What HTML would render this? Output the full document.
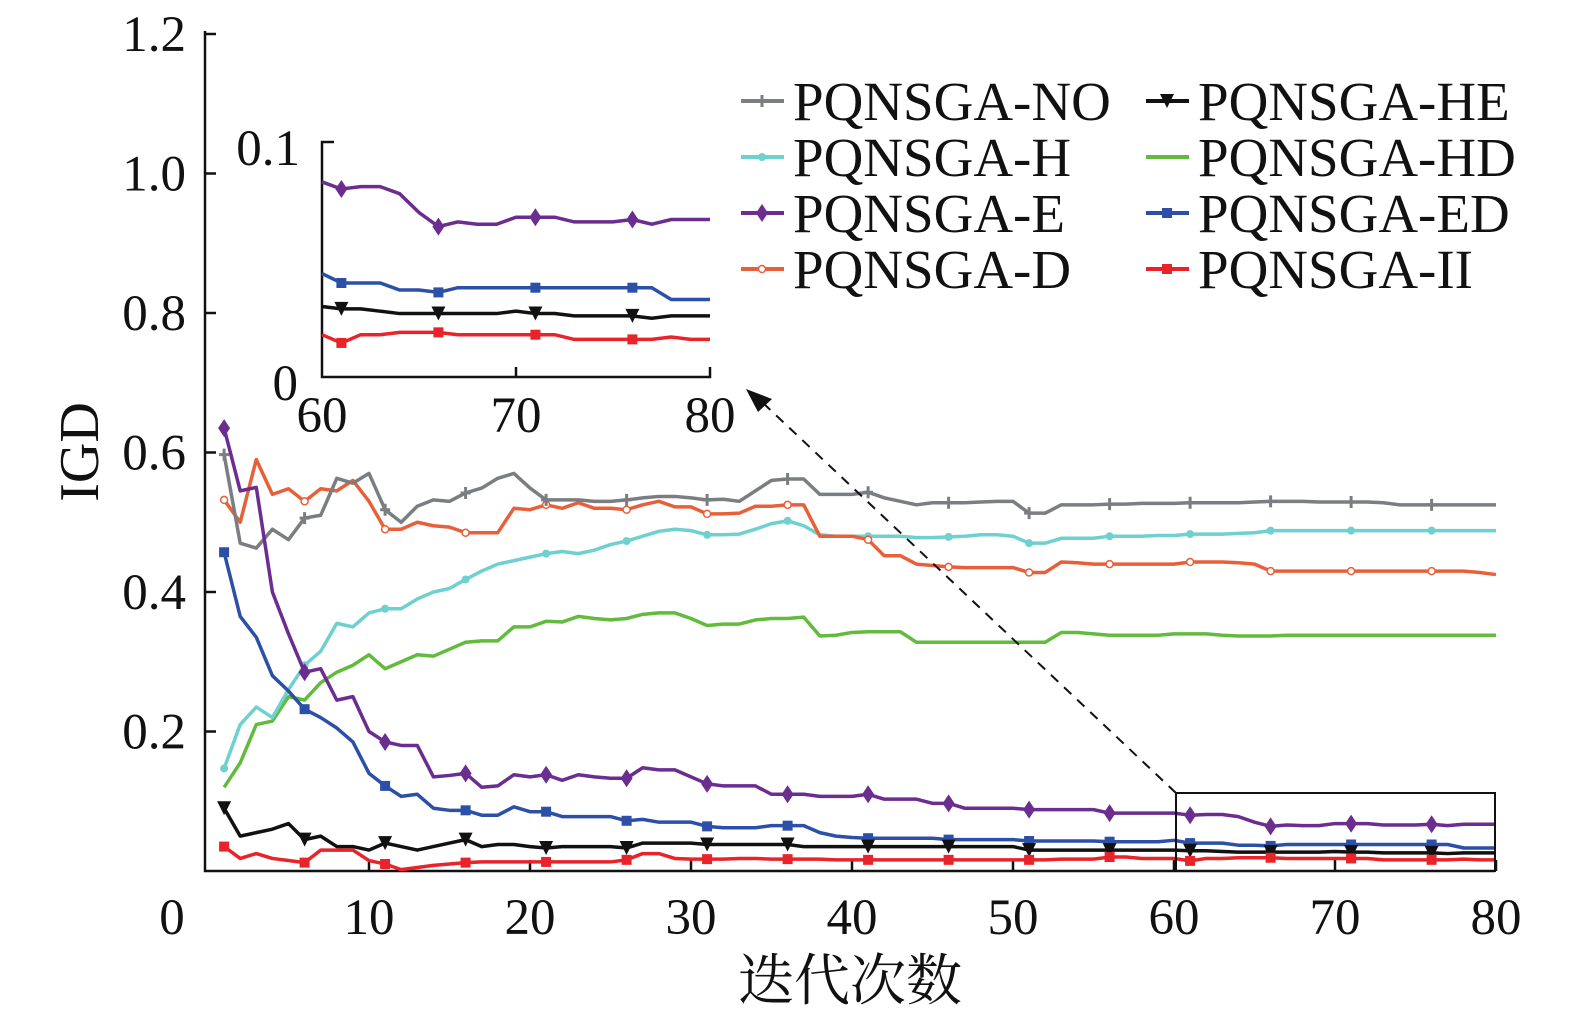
<!DOCTYPE html>
<html><head><meta charset="utf-8"><style>
body{margin:0;background:#fff}
svg{display:block}
text{font-family:"Liberation Serif","Noto Serif CJK SC",serif;fill:#111}
</style></head><body>
<svg id="c" width="1575" height="1022" viewBox="0 0 1575 1022"></svg>
<script>
const iters = Array.from({length:80},(_, i)=>i+1);
const sNO=[0.597,0.47,0.463,0.49,0.475,0.506,0.51,0.563,0.556,0.57,0.518,0.5,0.523,0.532,0.53,0.542,0.549,0.563,0.57,0.549,0.532,0.532,0.532,0.53,0.53,0.532,0.535,0.537,0.537,0.535,0.532,0.533,0.53,0.545,0.56,0.562,0.562,0.54,0.54,0.54,0.543,0.535,0.53,0.525,0.528,0.528,0.528,0.529,0.53,0.53,0.513,0.513,0.525,0.525,0.525,0.526,0.526,0.527,0.527,0.527,0.528,0.528,0.528,0.528,0.529,0.53,0.53,0.53,0.529,0.529,0.529,0.529,0.528,0.525,0.525,0.525,0.525,0.525,0.525,0.525];
const sH=[0.147,0.21,0.235,0.22,0.26,0.295,0.315,0.355,0.35,0.37,0.376,0.376,0.39,0.4,0.405,0.418,0.43,0.44,0.445,0.45,0.455,0.458,0.455,0.46,0.468,0.473,0.48,0.487,0.49,0.488,0.482,0.482,0.483,0.49,0.498,0.502,0.495,0.482,0.48,0.48,0.48,0.48,0.48,0.478,0.478,0.479,0.48,0.482,0.482,0.48,0.47,0.47,0.477,0.477,0.477,0.48,0.48,0.48,0.481,0.481,0.483,0.483,0.483,0.484,0.485,0.488,0.488,0.488,0.488,0.488,0.488,0.488,0.488,0.488,0.488,0.488,0.488,0.488,0.488,0.488];
const sHD=[0.12,0.155,0.21,0.215,0.25,0.245,0.27,0.285,0.295,0.31,0.29,0.3,0.31,0.308,0.318,0.328,0.33,0.33,0.35,0.35,0.358,0.357,0.365,0.362,0.36,0.362,0.368,0.37,0.37,0.362,0.352,0.354,0.354,0.36,0.362,0.362,0.364,0.337,0.338,0.342,0.343,0.343,0.343,0.328,0.328,0.328,0.328,0.328,0.328,0.328,0.328,0.328,0.342,0.342,0.34,0.338,0.338,0.338,0.338,0.34,0.34,0.34,0.338,0.337,0.337,0.337,0.338,0.338,0.338,0.338,0.338,0.338,0.338,0.338,0.338,0.338,0.338,0.338,0.338,0.338];
const sD=[0.532,0.5,0.59,0.54,0.548,0.53,0.548,0.545,0.56,0.53,0.49,0.49,0.5,0.495,0.493,0.485,0.485,0.485,0.52,0.518,0.525,0.52,0.528,0.52,0.52,0.518,0.525,0.53,0.522,0.522,0.512,0.512,0.513,0.523,0.523,0.525,0.525,0.48,0.48,0.48,0.475,0.452,0.452,0.44,0.438,0.436,0.435,0.435,0.435,0.435,0.428,0.428,0.443,0.442,0.44,0.44,0.44,0.44,0.44,0.44,0.443,0.443,0.443,0.442,0.44,0.43,0.43,0.43,0.43,0.43,0.43,0.43,0.43,0.43,0.43,0.43,0.43,0.43,0.428,0.425];
const sE=[0.635,0.545,0.55,0.4,0.34,0.285,0.29,0.245,0.25,0.2,0.185,0.18,0.18,0.135,0.137,0.14,0.12,0.122,0.138,0.135,0.138,0.13,0.138,0.135,0.133,0.133,0.148,0.145,0.145,0.135,0.125,0.122,0.122,0.122,0.11,0.11,0.11,0.107,0.107,0.107,0.11,0.103,0.103,0.103,0.097,0.097,0.09,0.09,0.09,0.09,0.088,0.088,0.088,0.088,0.088,0.083,0.083,0.083,0.083,0.083,0.080,0.081,0.081,0.078,0.07,0.064,0.066,0.065,0.065,0.068,0.068,0.068,0.066,0.066,0.066,0.067,0.065,0.067,0.067,0.067];
const sED=[0.457,0.365,0.335,0.28,0.258,0.232,0.22,0.205,0.185,0.14,0.122,0.107,0.11,0.09,0.087,0.087,0.08,0.08,0.092,0.085,0.085,0.078,0.078,0.078,0.078,0.072,0.074,0.07,0.07,0.07,0.064,0.062,0.062,0.062,0.065,0.065,0.065,0.055,0.05,0.048,0.047,0.047,0.047,0.047,0.047,0.045,0.045,0.045,0.045,0.045,0.043,0.043,0.043,0.043,0.043,0.042,0.042,0.042,0.042,0.044,0.040,0.040,0.040,0.037,0.037,0.036,0.038,0.038,0.038,0.038,0.038,0.038,0.038,0.038,0.038,0.038,0.038,0.033,0.033,0.033];
const sHE=[0.09,0.05,0.055,0.06,0.068,0.045,0.05,0.035,0.035,0.03,0.04,0.035,0.03,0.035,0.04,0.045,0.035,0.038,0.038,0.035,0.033,0.035,0.035,0.035,0.035,0.033,0.04,0.04,0.04,0.04,0.038,0.038,0.038,0.038,0.038,0.038,0.035,0.035,0.035,0.035,0.035,0.035,0.035,0.035,0.035,0.035,0.035,0.035,0.035,0.035,0.03,0.03,0.03,0.03,0.03,0.03,0.03,0.03,0.03,0.03,0.029,0.029,0.028,0.027,0.027,0.027,0.027,0.027,0.027,0.028,0.027,0.027,0.026,0.026,0.026,0.026,0.025,0.026,0.026,0.026];
const sII=[0.035,0.018,0.025,0.018,0.015,0.012,0.03,0.03,0.03,0.015,0.01,0.002,0.005,0.008,0.01,0.012,0.013,0.013,0.013,0.013,0.013,0.013,0.013,0.013,0.013,0.016,0.025,0.025,0.018,0.017,0.017,0.017,0.018,0.018,0.017,0.017,0.017,0.017,0.016,0.016,0.016,0.016,0.016,0.016,0.016,0.016,0.016,0.016,0.016,0.016,0.016,0.016,0.017,0.017,0.017,0.02,0.02,0.018,0.018,0.018,0.0145,0.018,0.018,0.019,0.019,0.019,0.018,0.018,0.018,0.018,0.018,0.018,0.016,0.016,0.016,0.016,0.016,0.017,0.016,0.016];
const yTicks=["0.2","0.4","0.6","0.8","1.0","1.2"];
const yTickVals=[0.2,0.4,0.6,0.8,1.0,1.2];
const xTickVals=[10,20,30,40,50,60,70,80];
const insetXTicks=[60,70,80];

const series=[
 {name:"PQNSGA-NO",key:"no",data:sNO,color:"#7a7d82",m:"plus"},
 {name:"PQNSGA-H",key:"h",data:sH,color:"#6fd0d0",m:"dot"},
 {name:"PQNSGA-E",key:"e",data:sE,color:"#6b2d8f",m:"diamond"},
 {name:"PQNSGA-D",key:"d",data:sD,color:"#e8603a",m:"ocircle"},
 {name:"PQNSGA-HE",key:"he",data:sHE,color:"#111111",m:"tri"},
 {name:"PQNSGA-HD",key:"hd",data:sHD,color:"#62bb3c",m:null},
 {name:"PQNSGA-ED",key:"ed",data:sED,color:"#2c4fa8",m:"square"},
 {name:"PQNSGA-II",key:"ii",data:sII,color:"#e8232a",m:"square"}
];
const svg=document.getElementById('c');
const NS="http://www.w3.org/2000/svg";
function el(t,a,p){const e=document.createElementNS(NS,t);for(const k in a)e.setAttribute(k,a[k]);(p||svg).appendChild(e);return e;}
const X=v=>208+(v)*16.1, Y=v=>871-v*697.5;
const IX=v=>322+(v-60)*(388/20), IY=v=>377-v*2350;

function marker(g,m,x,y,c,s){
 s=s||1;
 if(m==="plus"){el('path',{d:`M${x-5*s},${y}H${x+5*s}M${x},${y-6*s}V${y+6*s}`,stroke:c,'stroke-width':3},g);}
 else if(m==="dot"){el('circle',{cx:x,cy:y,r:4*s,fill:c},g);}
 else if(m==="diamond"){el('path',{d:`M${x},${y-9*s}L${x+6*s},${y}L${x},${y+9*s}L${x-6*s},${y}Z`,fill:c},g);}
 else if(m==="ocircle"){el('circle',{cx:x,cy:y,r:3.5*s,fill:'#fff',stroke:c,'stroke-width':1.5},g);}
 else if(m==="tri"){el('path',{d:`M${x-7*s},${y-7*s}H${x+7*s}L${x},${y+7*s}Z`,fill:c},g);}
 else if(m==="square"){el('rect',{x:x-5*s,y:y-5*s,width:10*s,height:10*s,fill:c},g);}
}

const ax=el('g',{});  
el('path',{d:`M205,31V871H1495`,stroke:'#111','stroke-width':2.5,fill:'none'},ax);
yTickVals.forEach((v,i)=>{
 el('line',{x1:205,x2:216,y1:Y(v),y2:Y(v),stroke:'#111','stroke-width':2.5},ax);
 const t=el('text',{x:186,y:Y(v)+17,'text-anchor':'end','font-size':51},ax);t.textContent=yTicks[i];
 
 
});
const z=el('text',{x:172,y:934,'text-anchor':'middle','font-size':51},ax);z.textContent="0";
xTickVals.forEach(v=>{
 el('line',{x1:X(v),x2:X(v),y1:871,y2:860,stroke:'#111','stroke-width':2.5},ax);
 const t=el('text',{x:X(v),y:934,'text-anchor':'middle','font-size':51},ax);t.textContent=String(v);
 
 
});
const yl=el('text',{x:0,y:0,'text-anchor':'middle','font-size':56,transform:'translate(98,452) rotate(-90)'});yl.textContent="IGD";


const xl=el('text',{x:850,y:1000,'text-anchor':'middle','font-size':56});xl.textContent="迭代次数";



const order=["hd","h","d","no","e","ed","he","ii"];
order.forEach(k=>{
 const s=series.find(q=>q.key===k);
 const g=el('g',{});
 
 
 el('polyline',{points:s.data.map((v,i)=>X(iters[i])+','+Y(v)).join(' '),fill:'none',stroke:s.color,'stroke-width':3.5,'stroke-linejoin':'round'},g);
 if(s.m) s.data.forEach((v,i)=>{ if(i%5===0) marker(g,s.m,X(iters[i]),Y(v),s.color,1); });
});

const zb=el('rect',{x:1176,y:793,width:319,height:78,fill:'none',stroke:'#111','stroke-width':2});


el('line',{x1:1176,y1:793,x2:762,y2:402,stroke:'#111','stroke-width':2,'stroke-dasharray':'10,8'});
const ar=el('path',{d:'M746,389L772,399L758,412Z',fill:'#111'});



const ig=el('g',{});  
el('path',{d:`M334,142H322V377H710V367`,stroke:'#111','stroke-width':2.5,fill:'none'},ig);
el('line',{x1:IX(70),x2:IX(70),y1:377,y2:367,stroke:'#111','stroke-width':2.5},ig);
let t=el('text',{x:300,y:165,'text-anchor':'end','font-size':51},ig);t.textContent="0.1";
t=el('text',{x:298,y:400,'text-anchor':'end','font-size':51},ig);t.textContent="0";
insetXTicks.forEach(v=>{const tt=el('text',{x:IX(v),y:432,'text-anchor':'middle','font-size':51},ig);tt.textContent=String(v);
 
 });
["e","ed","he","ii"].forEach(k=>{
 const s=series.find(q=>q.key===k);
 const pts=[];
 s.data.forEach((v,i)=>{if(iters[i]>=60)pts.push([IX(iters[i]),IY(v)]);});
 el('polyline',{points:pts.map(p=>p.join(',')).join(' '),fill:'none',stroke:s.color,'stroke-width':3.5},ig);
 s.data.forEach((v,i)=>{if(iters[i]>=61&&(iters[i]-1)%5===0)marker(ig,s.m,IX(iters[i]),IY(v),s.color,1);});
});

const lg=el('g',{});  
series.forEach((s,i)=>{
 const col=i<4?0:1, row=i%4;
 const lx=col?1146:741, ty=101+row*56;
 const g=el('g',{},lg);
 
 
 el('line',{x1:lx,x2:lx+43,y1:ty,y2:ty,stroke:s.color,'stroke-width':4},g);
 if(s.m) marker(g,s.m,lx+21,ty,s.color,1);
 const tx=el('text',{x:lx+52,y:ty+19,'font-size':55},g);tx.textContent=s.name;
});
</script>
</body></html>
